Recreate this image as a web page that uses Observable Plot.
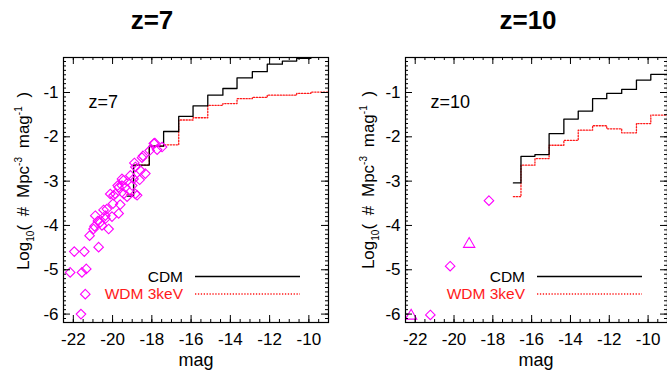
<!DOCTYPE html>
<html><head><meta charset="utf-8">
<script src="https://cdn.jsdelivr.net/npm/d3@7"></script>
<script src="https://cdn.jsdelivr.net/npm/@observablehq/plot@0.6"></script>
<style>
body{margin:0;background:#fff;}
#wrap{position:relative;width:667px;height:371px;overflow:hidden;font-family:"Liberation Sans",Arial,sans-serif;color:#000;}
.panel{position:absolute;top:0;}
.title{position:absolute;font-weight:bold;font-size:26px;transform:translate(-50%,-50%);white-space:nowrap;}
.ylab{position:absolute;font-size:17px;transform:translate(-50%,-50%) rotate(-90deg);white-space:nowrap;word-spacing:4px;line-height:1;}
.ylab sub,.ylab sup{font-size:10px;}
.xlab{position:absolute;font-size:18px;transform:translate(-50%,-50%);white-space:nowrap;line-height:1;}
#legend{position:absolute;left:0;top:0;}
</style></head>
<body><div id="wrap"></div>
<script>
// ---- data ----
const panelTitles = ["z=7", "z=10"];
const xLabel = "mag";
const legendNames = ["CDM", "WDM 3keV"];
const majorX = [-22, -20, -18, -16, -14, -12, -10];
const majorY = [-6, -5, -4, -3, -2, -1];

// z=7 binned luminosity functions (bin edges; last edge closes the final bin)
const edges7 = [-19.26, -18.93, -18.13, -17.4, -16.63, -15.9, -15.15, -14.38, -13.66, -12.88, -12.12, -11.35, -10.62, -9.9, -9.0];
const cdm7 = [-3.34, -2.64, -2.21, -1.88, -1.54, -1.30, -1.06, -0.91, -0.67, -0.53, -0.36, -0.29, -0.23, -0.20];
const wdm7 = [-3.30, -2.64, -2.21, -2.18, -1.62, -1.57, -1.29, -1.25, -1.14, -1.11, -1.06, -1.06, -1.02, -0.99];

// z=10 binned luminosity functions
const edges10 = [-16.94, -16.55, -15.83, -15.1, -14.34, -13.6, -12.86, -12.13, -11.36, -10.6, -9.86, -9.0];
const cdm10 = [-3.04, -2.44, -2.40, -1.93, -1.60, -1.42, -1.14, -1.02, -0.93, -0.72, -0.59];
const wdm10 = [-3.35, -2.64, -2.49, -2.19, -2.08, -1.85, -1.75, -1.82, -1.91, -1.70, -1.51];

// z=7 observations (diamonds)
const obs7Mag = [-21.61, -21.39, -22.16, -21.56, -21.34, -21.95, -21.44, -20.71, -21.17, -20.97, -20.92, -20.63, -20.54, -20.88, -20.75, -20.46, -20.20, -20.37, -20.03, -19.98, -19.69, -20.29, -19.61, -20.12, -19.86, -19.95, -19.69, -19.43, -19.52, -19.74, -19.35, -19.26, -19.00, -18.75, -19.09, -18.93, -19.52, -18.89, -18.84, -18.58, -18.33, -18.62, -18.50, -18.45, -18.11, -17.90, -17.73, -17.48, -17.85, -18.84, -19.44, -20.37];
const obs7Phi = [-6.00, -5.55, -5.06, -5.06, -4.98, -4.59, -4.59, -4.49, -4.23, -4.08, -4.02, -3.93, -4.00, -3.78, -3.90, -3.65, -4.08, -3.78, -3.80, -3.51, -3.73, -3.63, -3.53, -3.29, -3.29, -3.32, -3.14, -3.29, -3.10, -3.10, -3.14, -3.35, -3.10, -3.32, -2.87, -2.95, -2.95, -2.59, -2.68, -2.76, -2.83, -2.97, -2.47, -2.43, -2.31, -2.15, -2.29, -2.23, -2.14, -3.29, -2.98, -3.85];

// z=10 observations
const obs10DiaMag = [-21.22, -20.20, -18.20];
const obs10DiaPhi = [-6.02, -4.92, -3.44];
const obs10TriMag = [-22.21, -19.22];
const obs10TriPhi = [-6.04, -4.42];

// ---- helpers ----
const xDomain = [-22.5, -9];
const yDomain = [-6.19, -0.21];
const minorX = d3.range(-22.5, -8.99, 0.5);
const minorY = d3.range(-6.1, -0.25, 0.1);

function steps(edges, vals) {
  const pts = vals.map((v, i) => ({x: edges[i], y: v}));
  pts.push({x: edges[edges.length - 1], y: vals[vals.length - 1]});
  return pts;
}
function pts(xs, ys) { return xs.map((x, i) => ({x, y: ys[i]})); }

const H = 371, MT = 57, MB = 49, ML = 63;

function panel(width, mr, label, cdm, wdm, dots) {
  const iw = width - ML - mr, ih = H - MT - MB;
  const marks = [
    Plot.line(wdm, {x: "x", y: "y", curve: "step-after", stroke: "#ff1a1a", strokeWidth: 1.3, strokeDasharray: "1.3,1.6", clip: true}),
    Plot.line(cdm, {x: "x", y: "y", curve: "step-after", stroke: "#000", strokeWidth: 1.3, clip: true}),
    ...dots,
    // inward ticks, all four sides
    Plot.tickX(minorX, {x: d => d, insetTop: ih - 3, stroke: "#000"}),
    Plot.tickX(minorX, {x: d => d, insetBottom: ih - 3, stroke: "#000"}),
    Plot.tickX(majorX, {x: d => d, insetTop: ih - 7, stroke: "#000"}),
    Plot.tickX(majorX, {x: d => d, insetBottom: ih - 7, stroke: "#000"}),
    Plot.tickY(minorY, {y: d => d, insetRight: iw - 3, stroke: "#000"}),
    Plot.tickY(minorY, {y: d => d, insetLeft: iw - 3, stroke: "#000"}),
    Plot.tickY(majorY, {y: d => d, insetRight: iw - 7, stroke: "#000"}),
    Plot.tickY(majorY, {y: d => d, insetLeft: iw - 7, stroke: "#000"}),
    Plot.text([label], {frameAnchor: "top-left", dx: 25, dy: 38, textAnchor: "start", fontSize: 18}),
    Plot.frame({stroke: "#000", strokeWidth: 1.2})
  ];
  return Plot.plot({
    width, height: H, marginTop: MT, marginBottom: MB, marginLeft: ML, marginRight: mr,
    style: {fontFamily: "'Liberation Sans', Arial, sans-serif", fontSize: "17px", color: "#000", background: "transparent", overflow: "visible"},
    x: {domain: xDomain, ticks: majorX, tickFormat: d => String(d), tickSize: 0, tickPadding: 10, label: null},
    y: {domain: yDomain, ticks: majorY, tickFormat: d => String(d), tickSize: 0, tickPadding: 5, label: null},
    marks
  });
}

const wrap = document.getElementById("wrap");
const dia = (data) => Plot.dot(data, {x: "x", y: "y", symbol: "diamond2", r: 4.3, stroke: "#ff00ff", strokeWidth: 1.1, fill: "none", clip: true});
const tri = (data) => Plot.dot(data, {x: "x", y: "y", symbol: "triangle", r: 4.2, stroke: "#ff00ff", strokeWidth: 1.1, fill: "none", clip: true});

const p1 = panel(342, 14, panelTitles[0], steps(edges7, cdm7), steps(edges7, wdm7), [dia(pts(obs7Mag, obs7Phi))]);
p1.classList.add("panel"); p1.style.left = "0px";
wrap.appendChild(p1);
const p2 = panel(325, 0, panelTitles[1], steps(edges10, cdm10), steps(edges10, wdm10), [dia(pts(obs10DiaMag, obs10DiaPhi)), tri(pts(obs10TriMag, obs10TriPhi))]);
p2.classList.add("panel"); p2.style.left = "342px";
wrap.appendChild(p2);

function addDiv(cls, html, x, y) {
  const d = document.createElement("div");
  d.className = cls; d.innerHTML = html;
  d.style.left = x + "px"; d.style.top = y + "px";
  wrap.appendChild(d);
}
addDiv("title", panelTitles[0], 152, 20);
addDiv("title", panelTitles[1], 528, 20);
const ytxt = "Log<sub>10</sub>( # Mpc<sup>-3</sup> mag<sup>-1</sup> )";
addDiv("ylab", ytxt, 25, 181);
addDiv("ylab", ytxt, 370, 180);
addDiv("xlab", xLabel, 196, 360);
addDiv("xlab", xLabel, 536, 360);

// legends
const ns = "http://www.w3.org/2000/svg";
const lg = document.createElementNS(ns, "svg");
lg.setAttribute("id", "legend"); lg.setAttribute("width", 667); lg.setAttribute("height", 371);
const legStyles = [{stroke: "#000", dash: null, w: 1.3}, {stroke: "#ff1a1a", dash: "1.3,1.6", w: 1.3}];
[0, 342].forEach(ox => {
  legendNames.forEach((name, i) => {
    const cy = 276 + i * 17.5;
    const t = document.createElementNS(ns, "text");
    t.setAttribute("x", ox + 183); t.setAttribute("y", cy);
    t.setAttribute("text-anchor", "end"); t.setAttribute("dominant-baseline", "central");
    t.setAttribute("font-family", "'Liberation Sans', Arial, sans-serif");
    t.setAttribute("font-size", "15.5"); t.setAttribute("fill", i === 0 ? "#000" : "#ff1a1a");
    t.textContent = name; lg.appendChild(t);
    const l = document.createElementNS(ns, "line");
    l.setAttribute("x1", ox + 195); l.setAttribute("x2", ox + 300);
    l.setAttribute("y1", cy + 0.5); l.setAttribute("y2", cy + 0.5);
    l.setAttribute("stroke", legStyles[i].stroke); l.setAttribute("stroke-width", legStyles[i].w);
    if (legStyles[i].dash) l.setAttribute("stroke-dasharray", legStyles[i].dash);
    lg.appendChild(l);
  });
});
wrap.appendChild(lg);
</script></body></html>
